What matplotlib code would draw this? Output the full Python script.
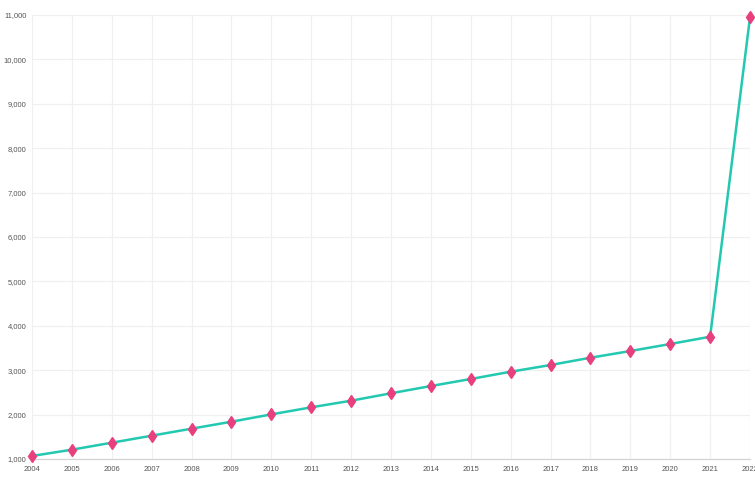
import matplotlib
matplotlib.use("Agg")
import matplotlib.pyplot as plt
from matplotlib.ticker import FuncFormatter, MultipleLocator

years = list(range(2004, 2023))
values = [1068, 1210, 1367, 1525, 1683, 1840, 2005, 2164, 2313, 2480,
          2644, 2802, 2966, 3117, 3281, 3432, 3590, 3754, 10950]

plt.rcParams["font.family"] = ["Liberation Sans", "DejaVu Sans"]

fig = plt.figure(figsize=(7.55, 4.78), dpi=100)
ax = fig.add_axes([32 / 755, 19 / 478, 718 / 755, 444 / 478])

ax.plot(years, values, color="#22c9b0", linewidth=1.8, zorder=3,
        solid_capstyle="round", clip_on=False)
ax.plot(years, values, linestyle="none", marker="d", markersize=6.5,
        color="#e8407f", markeredgecolor="#e8407f", zorder=4, clip_on=False)

ax.set_xlim(2004, 2022)
ax.set_ylim(1000, 11000)
ax.xaxis.set_major_locator(MultipleLocator(1))
ax.yaxis.set_major_locator(MultipleLocator(1000))
ax.yaxis.set_major_formatter(FuncFormatter(lambda v, _: f"{int(v):,}"))

ax.grid(True, color="#f0f0f0", linewidth=0.9, zorder=0)
for side in ("top", "right", "left"):
    ax.spines[side].set_visible(False)
ax.spines["bottom"].set_color("#d4d4d4")
ax.spines["bottom"].set_linewidth(0.9)

ax.tick_params(axis="both", length=0, labelsize=5.5, colors="#555555")
ax.tick_params(axis="x", pad=5)
ax.tick_params(axis="y", pad=4)

fig.savefig("out.png", dpi=100, facecolor="white")
